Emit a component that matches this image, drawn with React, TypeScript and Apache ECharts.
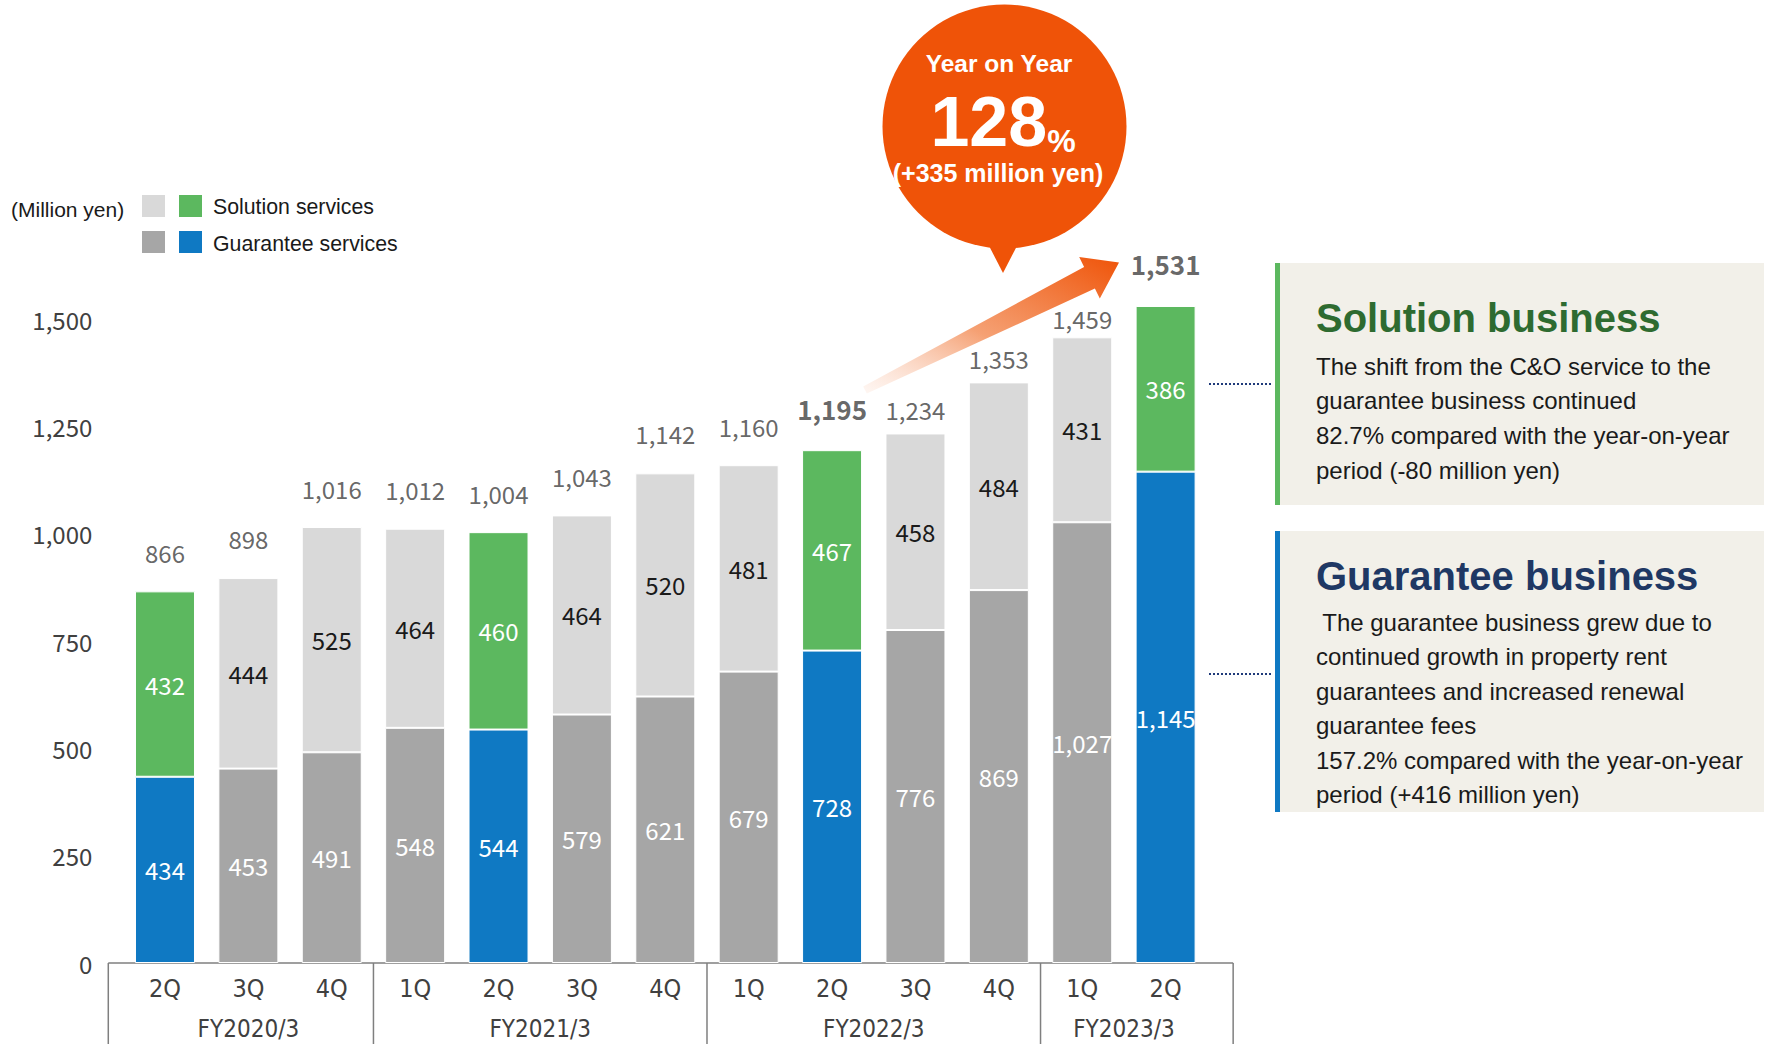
import React, { useEffect, useRef } from 'react';
import * as echarts from 'echarts';

// ---------- data ----------
const fiscalYears = [
  'FY2020/3', 'FY2020/3', 'FY2020/3',
  'FY2021/3', 'FY2021/3', 'FY2021/3', 'FY2021/3',
  'FY2022/3', 'FY2022/3', 'FY2022/3', 'FY2022/3',
  'FY2023/3', 'FY2023/3',
];
const quarters = ['2Q', '3Q', '4Q', '1Q', '2Q', '3Q', '4Q', '1Q', '2Q', '3Q', '4Q', '1Q', '2Q'];
const guaranteeValues = [434, 453, 491, 548, 544, 579, 621, 679, 728, 776, 869, 1027, 1145];
const solutionValues = [432, 444, 525, 464, 460, 464, 520, 481, 467, 458, 484, 431, 386];
const totalValues = [866, 898, 1016, 1012, 1004, 1043, 1142, 1160, 1195, 1234, 1353, 1459, 1531];
const highlightQuarter = '2Q';
const comparedPeriods = ['FY2022/3 2Q', 'FY2023/3 2Q'];
const yTicks = [0, 250, 500, 750, 1000, 1250, 1500];

const solutionNote = [
  'The shift from the C&O service to the',
  'guarantee business continued',
  '82.7% compared with the year-on-year',
  'period (-80 million yen)',
];
const guaranteeNote = [
  ' The guarantee business grew due to',
  'continued growth in property rent',
  'guarantees and increased renewal',
  'guarantee fees',
  '157.2% compared with the year-on-year',
  'period (+416 million yen)',
];

// label lift above each bar (style only)
const totalLabelDistance = [27, 27, 27, 27, 27, 27, 27, 27, 29, 12, 12, 6, 29];

const FONT_NUM = "'Noto Sans CJK JP', 'Noto Sans', sans-serif";
const FONT_ARIAL = "'Liberation Sans', Arial, sans-serif";
const FONT_NARROW = "'Liberation Sans Narrow', 'Arial Narrow', 'DejaVu Sans Condensed', 'Liberation Sans', sans-serif";

const C_BLUE = '#0F79C3';
const C_GREEN = '#5CB85F';
const C_DARK = '#A6A6A6';
const C_LIGHT = '#D9D9D9';
const C_ORANGE = '#EF5308';
const C_BOX = '#F2F0E9';

const fmt = (v: number) => v.toLocaleString('en-US');

function txt(text: string, x: number, y: number, font: string, fill: string, align = 'left', vAlign = 'middle') {
  return {
    type: 'text',
    x,
    y,
    silent: true,
    z: 20,
    style: { text, font, fill, align, verticalAlign: vAlign, textAlign: align, textVerticalAlign: vAlign },
  };
}

export default function App() {
  const ref = useRef<HTMLDivElement>(null);

  useEffect(() => {
    const chart = echarts.init(ref.current as HTMLDivElement, null, { renderer: 'svg' });
    const categories = quarters.map((q, i) => fiscalYears[i] + ' ' + q);
    const hl = (i: number) => quarters[i] === highlightQuarter;

    const option: any = {
      animation: false,
      backgroundColor: '#ffffff',
      grid: { left: 123.3, right: 561.7, top: 319.3, bottom: 81, containLabel: false },
      xAxis: {
        type: 'category',
        data: categories,
        axisLine: { show: false },
        axisTick: { show: false },
        axisLabel: {
          formatter: (v: string) => v.split(' ')[1],
          fontFamily: FONT_NARROW,
          fontSize: 25,
          color: '#404040',
          margin: 13,
        },
      },
      yAxis: {
        type: 'value',
        min: yTicks[0],
        max: yTicks[yTicks.length - 1],
        interval: yTicks[1] - yTicks[0],
        splitLine: { show: false },
        axisLine: { show: false },
        axisTick: { show: false },
        axisLabel: {
          formatter: (v: number) => fmt(v),
          fontFamily: FONT_NUM,
          fontSize: 24,
          color: '#404040',
          margin: 31,
          padding: [0, 0, 4, 0],
        },
      },
      series: [
        {
          name: 'Guarantee services',
          type: 'bar',
          stack: 'sales',
          barWidth: 60,
          clip: false,
          data: guaranteeValues.map((v, i) => ({
            value: v,
            itemStyle: { color: hl(i) ? C_BLUE : C_DARK, borderColor: '#ffffff', borderWidth: 1 },
          })),
          label: {
            show: true,
            position: 'inside',
            formatter: (p: any) => fmt(p.value),
            color: '#ffffff',
            fontFamily: FONT_NUM,
            fontSize: 24,
          },
        },
        {
          name: 'Solution services',
          type: 'bar',
          stack: 'sales',
          barWidth: 60,
          clip: false,
          data: solutionValues.map((v, i) => ({
            value: v,
            itemStyle: { color: hl(i) ? C_GREEN : C_LIGHT, borderColor: '#ffffff', borderWidth: 1 },
            label: { color: hl(i) ? '#ffffff' : '#1A1A1A' },
          })),
          label: {
            show: true,
            position: 'inside',
            formatter: (p: any) => fmt(p.value),
            fontFamily: FONT_NUM,
            fontSize: 24,
          },
        },
        {
          name: 'Total',
          type: 'scatter',
          symbolSize: 0,
          clip: false,
          silent: true,
          z: 10,
          data: totalValues.map((v, i) => {
            const bold = comparedPeriods.includes(categories[i]);
            return {
              value: v,
              label: {
                distance: totalLabelDistance[i],
                fontSize: bold ? 26 : 24,
                fontWeight: bold ? 'bold' : 'normal',
              },
            };
          }),
          label: {
            show: true,
            position: 'top',
            formatter: (p: any) => fmt(p.value),
            color: '#404040',
            fontFamily: FONT_NUM,
          },
        },
      ],
    };
    chart.setOption(option);

    // ---------- decorations derived from the axes ----------
    const cx = (i: number) => chart.convertToPixel({ xAxisIndex: 0 }, i) as number;
    const y0 = chart.convertToPixel({ yAxisIndex: 0 }, 0) as number;
    const n = categories.length;
    const catW = cx(1) - cx(0);
    const left = cx(0) - 0.68 * catW;
    const right = cx(n - 1) + 0.81 * catW;
    const bottom = 1044;
    const lineColor = '#7F7F7F';

    const groups: { fy: string; idx: number[] }[] = [];
    fiscalYears.forEach((fy, i) => {
      const g = groups[groups.length - 1];
      if (g && g.fy === fy) g.idx.push(i);
      else groups.push({ fy, idx: [i] });
    });

    const graphics: any[] = [];
    graphics.push({ type: 'line', silent: true, shape: { x1: left, y1: y0, x2: right, y2: y0 }, style: { stroke: lineColor, lineWidth: 1.5 } });
    const seps = [left];
    groups.forEach((g, k) => {
      if (k > 0) seps.push((cx(g.idx[0]) + cx(g.idx[0] - 1)) / 2);
    });
    seps.push(right);
    seps.forEach((x) =>
      graphics.push({ type: 'line', silent: true, shape: { x1: x, y1: y0, x2: x, y2: bottom }, style: { stroke: lineColor, lineWidth: 1.5 } })
    );
    groups.forEach((g) => {
      const mid = g.idx.reduce((s, i) => s + cx(i), 0) / g.idx.length;
      graphics.push(txt(g.fy, mid, 1029, `24px ${FONT_NARROW}`, '#404040', 'center'));
    });

    // legend
    graphics.push(txt('(Million yen)', 11, 209, `21px ${FONT_ARIAL}`, '#1A1A1A'));
    graphics.push({ type: 'rect', silent: true, shape: { x: 142, y: 195, width: 23, height: 22 }, style: { fill: C_LIGHT } });
    graphics.push({ type: 'rect', silent: true, shape: { x: 179, y: 195, width: 23, height: 22 }, style: { fill: C_GREEN } });
    graphics.push({ type: 'rect', silent: true, shape: { x: 142, y: 231, width: 23, height: 22 }, style: { fill: C_DARK } });
    graphics.push({ type: 'rect', silent: true, shape: { x: 179, y: 231, width: 23, height: 22 }, style: { fill: C_BLUE } });
    graphics.push(txt('Solution services', 213, 207, `21.3px ${FONT_ARIAL}`, '#1A1A1A'));
    graphics.push(txt('Guarantee services', 213, 244, `21.3px ${FONT_ARIAL}`, '#1A1A1A'));

    // arrow
    graphics.push({
      type: 'polygon',
      silent: true,
      z: 5,
      shape: {
        points: [
          [863.2, 386.5], [1084.1, 267], [1079.2, 257.1], [1119, 262.5],
          [1099.8, 298.5], [1094.9, 288.6], [866.8, 393.5],
        ],
      },
      style: {
        fill: new echarts.graphic.LinearGradient(0, 1, 1, 0, [
          { offset: 0, color: 'rgba(250,200,175,0.15)' },
          { offset: 0.45, color: 'rgba(244,150,100,0.9)' },
          { offset: 1, color: C_ORANGE },
        ]),
      },
    });

    // callout
    graphics.push({ type: 'circle', silent: true, z: 5, shape: { cx: 1004.5, cy: 126.5, r: 122 }, style: { fill: C_ORANGE } });
    graphics.push({ type: 'polygon', silent: true, z: 5, shape: { points: [[986, 240], [1020, 240], [1003, 273]] }, style: { fill: C_ORANGE } });
    graphics.push(txt('Year on Year', 999, 63, `bold 24.5px ${FONT_ARIAL}`, '#ffffff', 'center'));
    graphics.push({
      type: 'text',
      x: 1003,
      y: 157,
      silent: true,
      z: 20,
      style: {
        text: '{a|128}{b|%}',
        align: 'center',
        verticalAlign: 'bottom',
        textAlign: 'center',
        textVerticalAlign: 'bottom',
        rich: {
          a: { fontFamily: FONT_ARIAL, fontWeight: 'bold', fontSize: 70, fill: '#ffffff', color: '#ffffff', verticalAlign: 'bottom', lineHeight: 70 },
          b: { fontFamily: FONT_ARIAL, fontWeight: 'bold', fontSize: 32, fill: '#ffffff', color: '#ffffff', verticalAlign: 'bottom', lineHeight: 70 },
        },
      },
    });
    graphics.push(txt('(+335 million yen)', 998, 173, `bold 25px ${FONT_ARIAL}`, '#ffffff', 'center'));

    // note boxes
    graphics.push({ type: 'rect', silent: true, shape: { x: 1280, y: 263, width: 484, height: 242 }, style: { fill: C_BOX } });
    graphics.push({ type: 'rect', silent: true, shape: { x: 1275, y: 263, width: 5, height: 242 }, style: { fill: C_GREEN } });
    graphics.push({ type: 'rect', silent: true, shape: { x: 1280, y: 531, width: 484, height: 281 }, style: { fill: C_BOX } });
    graphics.push({ type: 'rect', silent: true, shape: { x: 1275, y: 531, width: 5, height: 281 }, style: { fill: C_BLUE } });
    graphics.push({ type: 'line', silent: true, shape: { x1: 1209, y1: 384, x2: 1273, y2: 384 }, style: { stroke: '#1F3A7A', lineWidth: 2, lineDash: [2, 2] } });
    graphics.push({ type: 'line', silent: true, shape: { x1: 1209, y1: 674, x2: 1273, y2: 674 }, style: { stroke: '#1F3A7A', lineWidth: 2, lineDash: [2, 2] } });
    graphics.push(txt('Solution business', 1316, 318, `bold 40px ${FONT_ARIAL}`, '#2E6B30'));
    solutionNote.forEach((line, k) => graphics.push(txt(line, 1316, 366 + k * 34.7, `24px ${FONT_ARIAL}`, '#1A1A1A')));
    graphics.push(txt('Guarantee business', 1316, 576, `bold 40px ${FONT_ARIAL}`, '#1F3864'));
    guaranteeNote.forEach((line, k) => graphics.push(txt(line, 1316, 622 + k * 34.5, `24px ${FONT_ARIAL}`, '#1A1A1A')));

    chart.setOption({ graphic: graphics });

    return () => chart.dispose();
  }, []);

  return (
    <div
      ref={ref}
      style={{ position: 'fixed', left: 0, top: 0, width: 1769, height: 1044, background: '#ffffff' }}
    />
  );
}
